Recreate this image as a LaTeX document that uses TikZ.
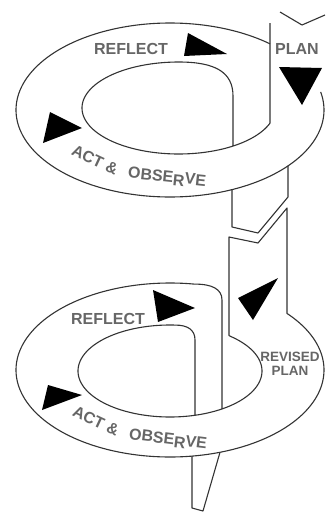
\documentclass[tikz,border=0pt]{standalone}
\usepackage{fontspec}
\setmainfont{Liberation Sans}
\begin{document}
\begin{tikzpicture}[x=1pt,y=-1pt,
  ribbon/.style={draw=black!80,line width=1.1pt,line join=round},
  arrowhead/.style={fill=black},
  lbl/.style={text=black!60,font=\bfseries\fontsize{16}{16}\selectfont,inner sep=0pt},
  lblsmall/.style={text=black!60,font=\bfseries\fontsize{13.5}{14}\selectfont,inner sep=0pt,align=center}]
\useasboundingbox[fill=white] (0,0) rectangle (325,520);

% ---------- top cycle ----------
% incoming strip (left edge) and inner hole
\draw[ribbon] (270,23) -- (270,123)
  -- plot[domain=-19:-270,samples=120] ({178.7+96.7*cos(\x)},{108-46*sin(\x)})
  .. controls (215,62) and (233,72) .. (233,96) -- (233,146.1);
% outer rim
\draw[ribbon] plot[domain=49.5:372,samples=200] ({170+154*cos(\x)},{110-87*sin(\x)});
% top chevron
\draw[ribbon] (280,12) -- (302,25) -- (325,15);
% strip leaving the top cycle
\draw[ribbon] (232,189.6) -- (232,227) -- (258,233) -- (288,197) -- (288,165.9);

% ---------- bottom cycle ----------
\draw[ribbon] (222,408.9) -- (222,300) .. controls (222,289) and (212,284.1) .. (194.8,284.1)
  -- plot[domain=80.7:400.56,samples=220] ({170+154*cos(\x)},{370-87*sin(\x)})
  -- (287,208) -- (258,243) -- (229,237) -- (229,335.5)
  -- plot[domain=48.8:-273,samples=200] ({170+92*cos(\x)},{371-46*sin(\x)})
  .. controls (188,325) and (195,330) .. (195,340) -- (195,415.3);
% bottom tail
\draw[ribbon] (192,456.1) -- (192,508) -- (203,511) -- (220,452.3);

% ---------- arrowheads ----------
\fill[arrowhead] (188,33) -- (227,54) -- (184,56) -- cycle;
\fill[arrowhead] (279,67) -- (322,68) -- (302,105) -- cycle;
\fill[arrowhead] (50,112) -- (82,128) -- (43,143) -- cycle;
\fill[arrowhead] (153,290) -- (195,308) -- (158,322) -- cycle;
\fill[arrowhead] (278,278) -- (238,298) -- (253,320) -- cycle;
\fill[arrowhead] (48,385) -- (82,395) -- (42,410) -- cycle;

% ---------- labels ----------
\node[lbl] (reflect1) at (131,49) {REFLECT};
\node[lbl] (plan1) at (297,49) {PLAN};
\node[lbl,rotate=-25] (act1) at (95,160) {ACT \&};
\node[lbl,rotate=-6] (obs1) at (167,178) {OBSE\raisebox{-3pt}{R}VE};

\node[lbl] (reflect2) at (108,319) {REFLECT};
\node[lblsmall] (revised) at (290,364) {REVISED\\PLAN};
\node[lbl,rotate=-25] (act2) at (96,421) {ACT \&};
\node[lbl,rotate=-7] (obs2) at (168,440) {OBSE\raisebox{-3pt}{R}VE};
\end{tikzpicture}
\end{document}
